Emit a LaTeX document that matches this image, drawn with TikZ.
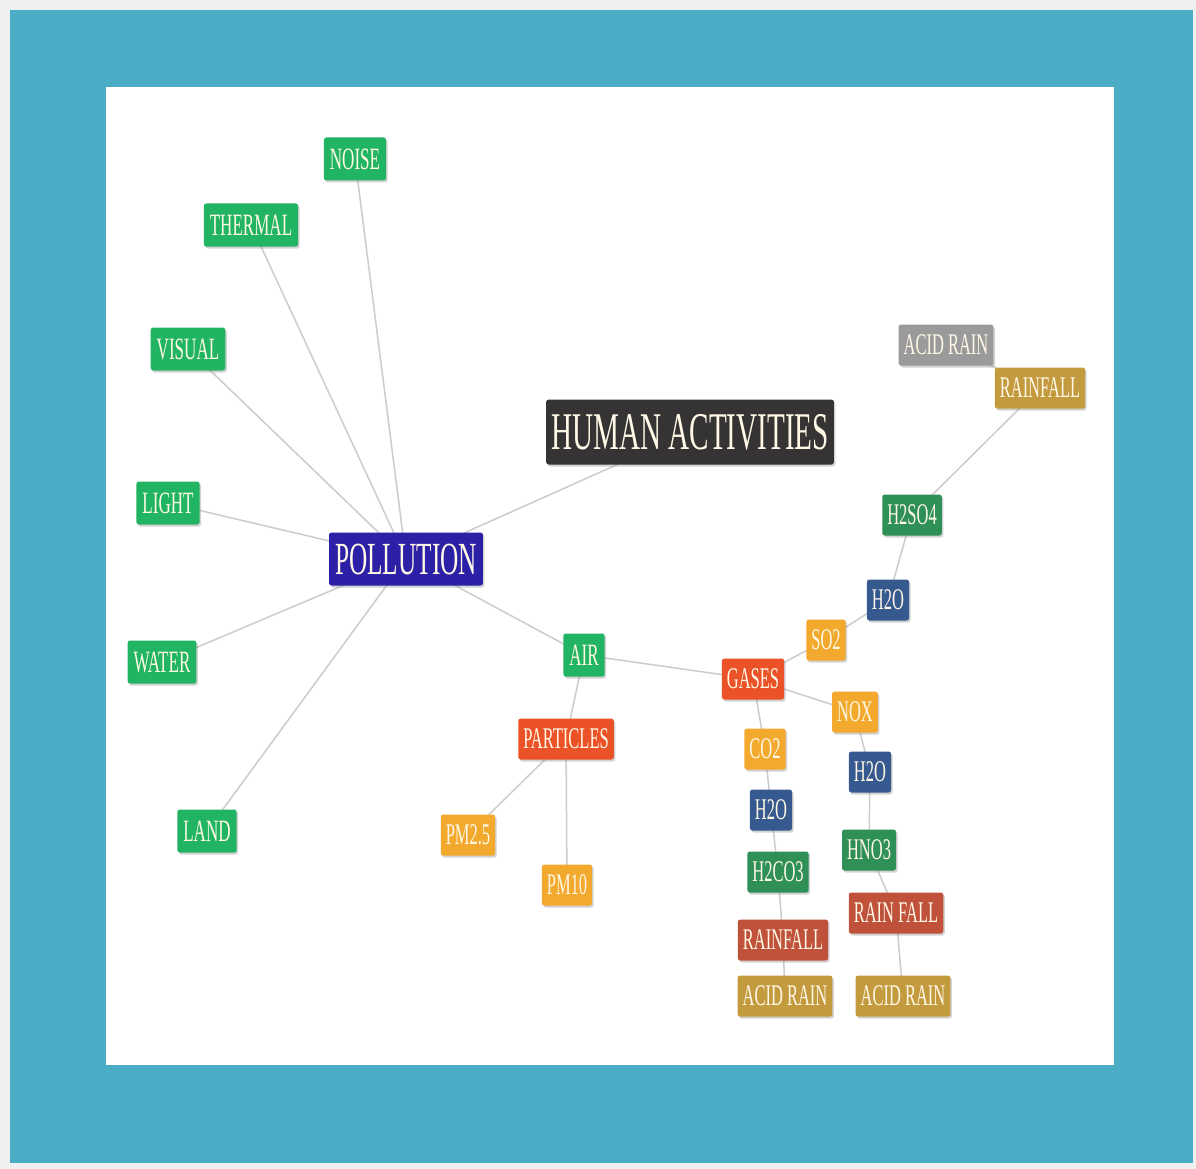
\documentclass[tikz,border=0pt]{standalone}
\usepackage{fontspec}
\setmainfont{Liberation Serif}[FakeStretch=0.55]
\usepackage{tikz}
\usetikzlibrary{shadows, backgrounds}
\definecolor{frameteal}{HTML}{4BACC6}
\definecolor{kgreen}{HTML}{21B563}
\definecolor{kblue}{HTML}{2B20A6}
\definecolor{kdark}{HTML}{353333}
\definecolor{kred}{HTML}{EC5228}
\definecolor{kamber}{HTML}{F3A92D}
\definecolor{knavy}{HTML}{36598F}
\definecolor{kforest}{HTML}{2E8F57}
\definecolor{kbrick}{HTML}{C0513A}
\definecolor{kgold}{HTML}{C49A3E}
\definecolor{kgray}{HTML}{9A9A9A}
\definecolor{ktext}{HTML}{FFF8E6}
\pgfdeclarelayer{frame}
\pgfdeclarelayer{links}
\pgfsetlayers{frame,links,main}

\begin{document}
\begin{tikzpicture}[
        x=1pt, y=-1pt,
        tag/.style = {rectangle, rounded corners=2.5pt, text=ktext, inner xsep=5pt, inner ysep=0pt,
                      minimum height=41pt, font=\fontsize{30}{30}\selectfont,
                      drop shadow={opacity=0.35, shadow xshift=1.5pt, shadow yshift=-2pt}},
        big/.style = {tag, minimum height=43pt, inner xsep=6pt, font=\fontsize{31}{31}\selectfont},
        link/.style = {line width=1.5pt, draw=black!20},
    ]
        \begin{pgfonlayer}{frame}
            \fill[black!6] (0,0) rectangle (1196,1169);
            \fill[frameteal] (10,10) rectangle (1193,1163);
            \fill[white] (106,87) rectangle (1114,1065);
        \end{pgfonlayer}

        % centre and first ring
        \node[tag, fill=kblue, minimum height=53pt, inner xsep=6pt, font=\fontsize{46}{46}\selectfont] (poll) at (406,559) {POLLUTION};
        \node[tag, fill=kdark, minimum height=65pt, inner xsep=5pt, font=\fontsize{53}{53}\selectfont] (human) at (690,432) {HUMAN ACTIVITIES};
        \node[big, fill=kgreen] (noise) at (355,159) {NOISE};
        \node[big, fill=kgreen] (thermal) at (251,225) {THERMAL};
        \node[big, fill=kgreen] (visual) at (188,349) {VISUAL};
        \node[big, fill=kgreen] (light) at (168,503) {LIGHT};
        \node[big, fill=kgreen] (water) at (162,662) {WATER};
        \node[big, fill=kgreen] (land) at (207,831) {LAND};
        \node[big, fill=kgreen] (air) at (584,655) {AIR};

        % particles
        \node[tag, fill=kred] (part) at (566,739) {PARTICLES};
        \node[tag, fill=kamber] (pmA) at (468,835) {PM2.5};
        \node[tag, fill=kamber] (pmB) at (567,885) {PM10};

        % gases
        \node[tag, fill=kred] (gases) at (753,679) {GASES};
        \node[tag, fill=kamber] (so2) at (826,640) {SO2};
        \node[tag, fill=knavy] (wA) at (888,600) {H2O};
        \node[tag, fill=kforest] (h2so4) at (912,515) {H2SO4};
        \node[tag, fill=kgold] (rainA) at (1040,388) {RAINFALL};
        \node[tag, fill=kgray] (acidA) at (946,345) {ACID RAIN};

        \node[tag, fill=kamber] (nox) at (855,712) {NOX};
        \node[tag, fill=knavy] (wB) at (870,772) {H2O};
        \node[tag, fill=kforest] (hno3) at (869,850) {HNO3};
        \node[tag, fill=kbrick] (rainB) at (896,913) {RAIN FALL};
        \node[tag, fill=kgold] (acidB) at (903,996) {ACID RAIN};

        \node[tag, fill=kamber] (co2) at (765,749) {CO2};
        \node[tag, fill=knavy] (wC) at (771,810) {H2O};
        \node[tag, fill=kforest] (h2co3) at (778,872) {H2CO3};
        \node[tag, fill=kbrick] (rainC) at (783,940) {RAINFALL};
        \node[tag, fill=kgold] (acidC) at (785,996) {ACID RAIN};

        \begin{pgfonlayer}{links}
            \foreach \n in {noise,thermal,visual,light,water,land,human,air}
                \draw[link] (poll.center) -- (\n.center);
            \draw[link] (air.center) -- (part.center);
            \draw[link] (air.center) -- (gases.center);
            \draw[link] (part.center) -- (pmA.center);
            \draw[link] (part.center) -- (pmB.center);
            \draw[link] (gases.center) -- (so2.center) -- (wA.center) -- (h2so4.center) -- (rainA.center) -- (acidA.center);
            \draw[link] (gases.center) -- (nox.center) -- (wB.center) -- (hno3.center) -- (rainB.center) -- (acidB.center);
            \draw[link] (gases.center) -- (co2.center) -- (wC.center) -- (h2co3.center) -- (rainC.center) -- (acidC.center);
        \end{pgfonlayer}
    \end{tikzpicture}
\end{document}
